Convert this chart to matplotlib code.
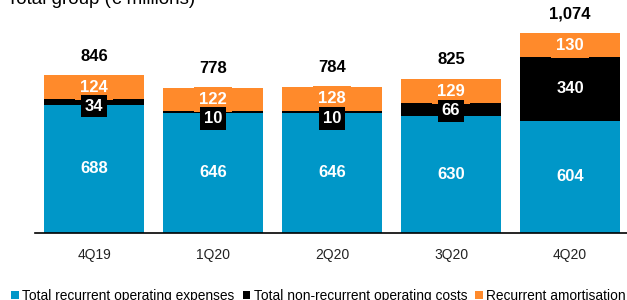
import matplotlib.pyplot as plt
import numpy as np

quarters = ["4Q19", "1Q20", "2Q20", "3Q20", "4Q20"]
recurrent_opex = [688, 646, 646, 630, 604]
non_recurrent = [34, 10, 10, 66, 340]
amortisation = [124, 122, 128, 129, 130]
totals = [846, 778, 784, 825, 1074]

blue = "#0097C8"
black = "#000000"
orange = "#FF8A2B"

plt.rcParams['font.family'] = ['Liberation Sans', 'DejaVu Sans']

fig = plt.figure(figsize=(6.27, 3.0), dpi=100)
ax = fig.add_axes([35/627, 67/300, 1 - 35/627, 233/300])

x = np.arange(len(quarters))
w = 0.84
b1 = np.array(recurrent_opex)
b2 = b1 + np.array(non_recurrent)

ax.bar(x, recurrent_opex, w, color=blue, label="Total recurrent operating expenses")
ax.bar(x, non_recurrent, w, bottom=b1, color=black, label="Total non-recurrent operating costs")
ax.bar(x, amortisation, w, bottom=b2, color=orange, label="Recurrent amortisation")

lab = dict(ha='center', color='white', fontsize=12, fontweight='bold')
for i in range(len(quarters)):
    ax.text(x[i], recurrent_opex[i] / 2, str(recurrent_opex[i]), va='center', **lab)
    # small black segments: label hangs below the segment top
    if non_recurrent[i] < 100:
        ax.text(x[i], b2[i], str(non_recurrent[i]), va='top', zorder=4,
                bbox=dict(boxstyle='square,pad=0.22', fc=black, ec='none'), **lab)
    else:
        ax.text(x[i], b1[i] + non_recurrent[i] / 2, str(non_recurrent[i]), va='center', **lab)
    ax.text(x[i], b2[i] + amortisation[i] / 2, str(amortisation[i]), va='center', zorder=3,
            bbox=dict(boxstyle='square,pad=0.3', fc=orange, ec='none'), **lab)
    ax.annotate(f"{totals[i]:,}", (x[i], totals[i]), xytext=(0, 14), textcoords='offset points',
                ha='center', va='center', fontsize=12, fontweight='bold', color='black')

ax.set_xlim(-0.496, 4.479)
ax.set_ylim(0, 233 * 1074 / 200)
ax.set_xticks(x)
ax.set_xticklabels(quarters, fontsize=10, color='#222222')
ax.tick_params(axis='x', length=0, pad=11)
ax.set_yticks([])
for s in ['top', 'right', 'left']:
    ax.spines[s].set_visible(False)
ax.spines['bottom'].set_linewidth(1.2)

fig.text(7/627, 1 - 4.5/300, "Total group (€ millions)", fontsize=13.5, va='baseline', ha='left')

fig.legend(loc='center left', bbox_to_anchor=(11/627, 4/300), ncol=3, frameon=False,
           fontsize=9.9, handlelength=0.55, handleheight=0.55, handletextpad=0.25,
           columnspacing=0.6, borderaxespad=0, borderpad=0)

fig.savefig("out.png", dpi=100)
